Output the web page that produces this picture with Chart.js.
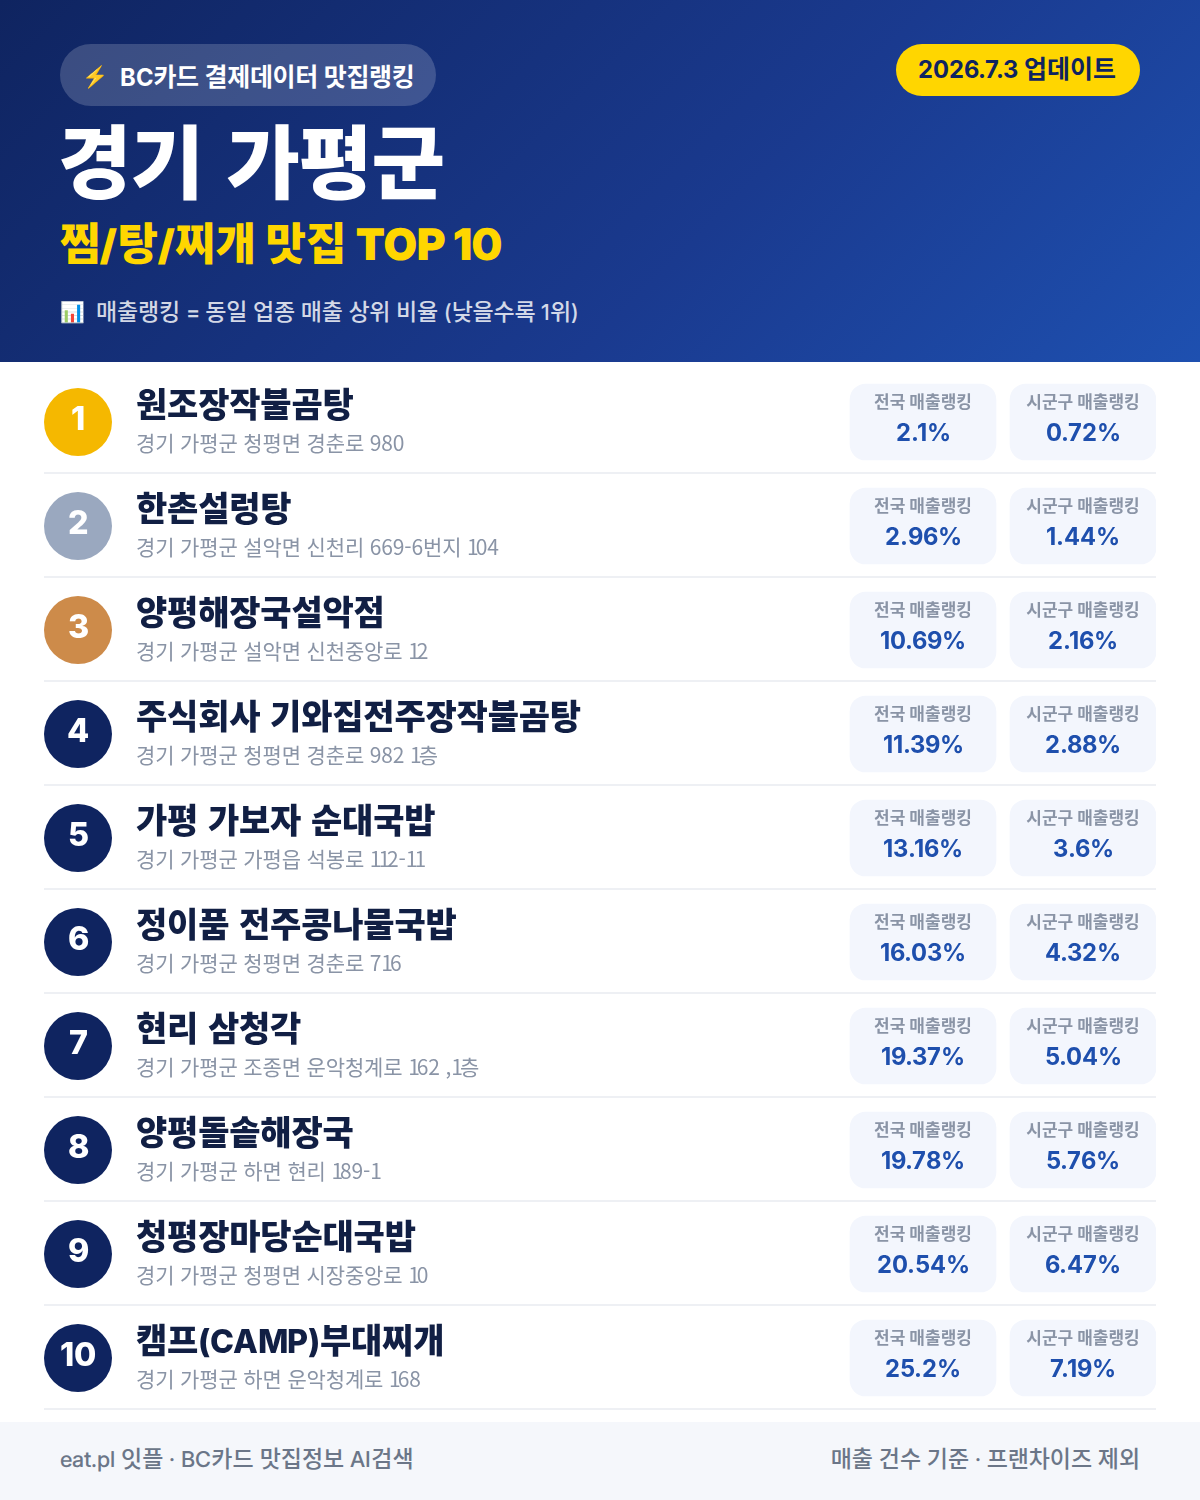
<!DOCTYPE html>
<html lang="ko"><head><meta charset="utf-8">
<script src="https://cdn.jsdelivr.net/npm/chart.js@4"></script>
<style>
@font-face{font-family:"LatinP";src:local("Inter");font-weight:400;size-adjust:95%}
@font-face{font-family:"LatinP";src:local("Inter Medium"),local("Inter");font-weight:500;size-adjust:95%}
@font-face{font-family:"LatinP";src:local("Inter Bold"),local("Inter");font-weight:700;size-adjust:95%}
@font-face{font-family:"LatinP";src:local("Inter ExtraBold"),local("Inter Bold");font-weight:800;size-adjust:95%}
@font-face{font-family:"LatinP";src:local("Inter Black"),local("Inter ExtraBold");font-weight:900;size-adjust:95%}
html,body{margin:0;padding:0;background:#fff}
body{width:1200px;height:1500px;position:relative;overflow:hidden;font-family:"LatinP","Noto Sans CJK KR",sans-serif}
.t{position:absolute;white-space:nowrap;line-height:1}
#head{position:absolute;left:0;top:0;width:1200px;height:362px;background:linear-gradient(135deg,#0f2460 0%,#1a3a8f 60%,#1e50b0 100%)}
#foot{position:absolute;left:0;top:1422px;width:1200px;height:78px;background:#f5f7fb}
#wrap{position:absolute;left:0;top:362px;width:1200px;height:1060px}
#badge{position:absolute;left:60px;top:44px;width:376px;height:62px;border-radius:31px;background:rgba(255,255,255,.18)}
#date{position:absolute;left:896px;top:44px;width:244px;height:52px;border-radius:26px;background:#ffd600}
.c{transform:translate(-50%,-50%);text-align:center}
.m{transform:translateY(-50%)}
.n1{letter-spacing:-3px}
</style></head><body>
<div id="head"></div>
<div id="badge"></div>
<div id="date"></div>
<div class="t m" style="left:82px;top:75px;font-size:21px">⚡</div>
<div class="t m" style="left:120px;top:77px;font-size:25px;font-weight:700;color:#fff;letter-spacing:-.3px">BC카드 결제데이터 맛집랭킹</div>
<div class="t c" style="left:1017px;top:69px;font-size:25px;font-weight:700;color:#0f2460">2026.7.3 업데이트</div>
<div class="t m" style="left:58px;top:164px;font-size:80px;font-weight:900;color:#fff;letter-spacing:-1px;word-spacing:10px">경기 가평군</div>
<div class="t m" style="left:60px;top:245px;font-size:44px;font-weight:900;color:#ffd600;word-spacing:1.5px">찜/탕/찌개 맛집 <span style="font-size:46px">TOP 10</span></div>
<div class="t m" style="left:60px;top:311px;font-size:20px">📊</div>
<div class="t m" style="left:96px;top:312px;font-size:23px;font-weight:500;color:rgba(255,255,255,.82);letter-spacing:-.2px">매출랭킹 = 동일 업종 매출 상위 비율 (낮을수록 1위)</div>
<div id="wrap"><canvas id="cv" width="1200" height="1060"></canvas></div>
<div id="overlay"></div>
<div id="foot"></div>
<div class="t m" style="left:60px;top:1459px;font-size:23px;font-weight:500;color:#6b7688">eat.pl 잇플 · BC카드 맛집정보 AI검색</div>
<div class="t m" style="right:60px;top:1459px;font-size:23px;font-weight:500;color:#6b7688;letter-spacing:-.1px">매출 건수 기준 · 프랜차이즈 제외</div>
<script>
const ranks = [1,2,3,4,5,6,7,8,9,10];
const names = ["원조장작불곰탕","한촌설렁탕","양평해장국설악점","주식회사 기와집전주장작불곰탕","가평 가보자 순대국밥","정이품 전주콩나물국밥","현리 삼청각","양평돌솥해장국","청평장마당순대국밥","캠프(CAMP)부대찌개"];
const addresses = ["경기 가평군 청평면 경춘로 980","경기 가평군 설악면 신천리 669-6번지 104","경기 가평군 설악면 신천중앙로 12","경기 가평군 청평면 경춘로 982 1층","경기 가평군 가평읍 석봉로 112-11","경기 가평군 청평면 경춘로 716","경기 가평군 조종면 운악청계로 162 ,1층","경기 가평군 하면 현리 189-1","경기 가평군 청평면 시장중앙로 10","경기 가평군 하면 운악청계로 168"];
const nationalRank = [2.1,2.96,10.69,11.39,13.16,16.03,19.37,19.78,20.54,25.2];
const districtRank = [0.72,1.44,2.16,2.88,3.6,4.32,5.04,5.76,6.47,7.19];
const seriesLabels = ["전국 매출랭킹","시군구 매출랭킹"];

const medal = i => i===0?"#f5b800":i===1?"#9aa8bf":i===2?"#cd8b4a":"#0f2460";
const col = {cx:78, a:[850,996], b:[1010,1156]};

const overlayPlugin = {
  id:"overlay",
  afterRender(chart){
    if(chart.$done) return; chart.$done = true;
    const top = chart.canvas.parentNode.offsetTop;
    const xs = chart.scales.x, ys = chart.scales.y;
    const o = document.getElementById("overlay");
    const add = (txt,x,y,cls,st)=>{const d=document.createElement("div");d.className="t "+cls;d.textContent=txt;d.style.cssText=`left:${x}px;top:${y}px;`+st;o.appendChild(d);return d;};
    names.forEach((n,i)=>{
      const y = top + ys.getPixelForValue(i);
      add(String(ranks[i]), xs.getPixelForValue(col.cx), y-3, "c", "font-size:34px;font-weight:800;color:#fff");
      add(n, 136, y-16, "m", "font-size:34px;font-weight:800;color:#111f44;letter-spacing:-.2px;word-spacing:3px");
      const ad = add("", 136, y+20, "m", "font-size:21px;font-weight:400;color:#8a94a6;letter-spacing:-.15px");
      addresses[i].split(/(1)/).forEach(part=>{
        if(part==="1"){const s=document.createElement("span");s.className="n1";s.textContent=part;ad.appendChild(s);}
        else if(part) ad.appendChild(document.createTextNode(part));
      });
      [[col.a,nationalRank,0],[col.b,districtRank,1]].forEach(([r,v,k])=>{
        const cx = xs.getPixelForValue((r[0]+r[1])/2);
        add(seriesLabels[k], cx, y-20, "c", "font-size:17px;font-weight:700;color:#8a94a6");
        add(v[i]+"%", cx, y+10, "c", "font-size:25px;font-weight:700;color:#1e4fad");
      });
    });
  },
  beforeDatasetsDraw(chart){
    const {ctx,chartArea:a,scales:{y:ys}} = chart;
    ctx.save();ctx.fillStyle="#eef0f4";
    names.forEach((n,i)=>{ctx.fillRect(a.left,Math.round(ys.getPixelForValue(i))+50,a.right-a.left,2);});
    ctx.restore();
  }
};

new Chart(document.getElementById("cv"),{
  data:{
    labels:names,
    datasets:[
      {type:"scatter",label:"순위",data:names.map((n,i)=>({x:col.cx,y:i})),pointRadius:34,pointHoverRadius:34,pointBackgroundColor:names.map((n,i)=>medal(i)),pointBorderWidth:0,yAxisID:"y",xAxisID:"x"},
      {type:"bar",indexAxis:"y",label:seriesLabels[0],data:names.map(()=>col.a),backgroundColor:"#f3f6fd",borderRadius:16,borderSkipped:false,barThickness:76,grouped:false,yAxisID:"y",xAxisID:"x"},
      {type:"bar",indexAxis:"y",label:seriesLabels[1],data:names.map(()=>col.b),backgroundColor:"#f3f6fd",borderRadius:16,borderSkipped:false,barThickness:76,grouped:false,yAxisID:"y",xAxisID:"x"}
    ]
  },
  options:{
    indexAxis:"y",responsive:false,animation:false,devicePixelRatio:1,
    layout:{autoPadding:false,padding:{left:44,right:44,top:8,bottom:12}},
    plugins:{legend:{display:false},tooltip:{enabled:false}},
    scales:{
      x:{type:"linear",min:44,max:1156,display:false},
      y:{type:"category",offset:true,display:false}
    }
  },
  plugins:[overlayPlugin]
});
</script>
</body></html>
